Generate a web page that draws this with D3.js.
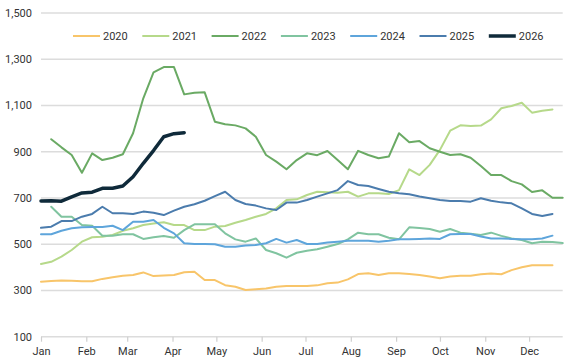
<!DOCTYPE html>
<html><head><meta charset="utf-8">
<script src="https://cdn.jsdelivr.net/npm/d3@7"></script>
<style>
html,body{margin:0;padding:0;background:#fff;}
svg{display:block;font-family:Roboto,"Noto Sans",Arial,sans-serif;}
</style></head>
<body><svg id="c" width="579" height="363"></svg>
<script>
const years = ["2020","2021","2022","2023","2024","2025","2026"];
const colors = ["#F8C56A","#B6D98A","#6AAA64","#80C4A0","#5EA5DB","#4B7CAD","#0F2A3A"];
const widths = [2,2,2,2,2,2,3.5];
const yTicks = [100,300,500,700,900,1100,1300,1500];
const monthLabels = ["Jan","Feb","Mar","Apr","May","Jun","Jul","Aug","Sep","Oct","Nov","Dec"];

const s2020 = [338,341,343,342,340,340,350,357,364,367,378,362,365,367,379,381,345,345,323,316,302,305,308,316,319,319,319,322,331,334,348,371,374,367,374,374,371,367,360,353,360,364,364,370,373,370,388,400,409,409,409];
const s2021 = [414,424,446,475,511,530,532,540,558,569,583,590,595,583,583,561,561,576,579,593,605,619,631,655,691,694,713,727,725,723,727,706,720,720,717,734,824,799,843,908,991,1014,1011,1013,1040,1088,1098,1112,1069,1077,1083];
const s2022 = [null,954,919,886,809,893,864,874,889,980,1131,1243,1266,1266,1148,1155,1157,1030,1019,1014,1001,965,886,857,824,864,893,885,903,864,824,904,886,872,879,980,941,946,915,900,886,889,874,838,799,799,773,759,726,733,701,701];
const s2023 = [null,662,619,619,583,580,537,537,543,543,523,530,536,528,561,586,586,586,547,521,511,525,475,461,442,463,472,478,489,501,521,550,543,543,528,521,573,570,566,554,566,550,545,540,550,536,525,518,504,511,510,505];
const s2024 = [543,543,558,569,573,574,574,580,561,597,597,605,571,547,504,501,501,500,489,489,494,497,504,523,507,518,501,501,507,511,515,515,515,511,515,521,521,523,525,523,543,544,544,533,525,525,523,521,521,525,537];
const s2025 = [571,576,600,600,619,631,662,634,634,631,641,636,626,645,662,673,688,708,727,691,674,667,655,648,680,680,691,706,720,734,773,756,752,739,727,720,716,706,699,691,687,687,684,699,688,681,677,655,631,622,631];
const s2026 = [687,688,686,705,722,725,742,742,752,792,850,905,965,978,982];
const series = [s2020,s2021,s2022,s2023,s2024,s2025,s2026];

const svg = d3.select("#c");
const t0 = new Date(2023,0,1);
const weekDate = k => new Date(2023,0,1+7*k);
const x = d3.scaleTime().domain([t0, weekDate(51)]).range([41,562.7]);
const y = d3.scaleLinear().domain([100,1500]).range([336.7,13]);

// gridlines
svg.append("g").selectAll("line").data(yTicks).join("line")
  .attr("x1",41).attr("x2",562.7)
  .attr("y1",d=>y(d)).attr("y2",d=>y(d))
  .attr("stroke","#dcdcdc").attr("stroke-width",1.4);

// y labels
svg.append("g").selectAll("text").data(yTicks).join("text")
  .attr("x",32).attr("y",d=>y(d)).attr("dy","0.35em")
  .attr("text-anchor","end").attr("font-size",11).attr("fill","#333")
  .text(d=>d3.format(",")(d));

// x axis
const months = d3.timeMonth.range(t0, new Date(2023,11,2));
const xa = svg.append("g").attr("transform",`translate(0,${y(100)})`)
  .call(d3.axisBottom(x).tickValues(months).tickFormat((d,i)=>monthLabels[i]).tickSize(5).tickPadding(6));
xa.select(".domain").remove();
xa.selectAll(".tick line").attr("stroke","#cfcfcf").attr("stroke-width",1.2);
xa.selectAll(".tick text").attr("font-size",11).attr("fill","#333").attr("font-family","Roboto, 'Noto Sans', Arial, sans-serif");

// lines
const line = d3.line().defined(d=>d!=null).x((d,i)=>x(weekDate(i))).y(d=>y(d));
series.forEach((s,i)=>{
  svg.append("path").datum(s).attr("d",line)
    .attr("fill","none").attr("stroke",colors[i]).attr("stroke-width",widths[i])
    .attr("stroke-linejoin","round").attr("stroke-linecap","round");
});

// legend
const lg = svg.append("g").attr("transform","translate(0,36)");
years.forEach((yr,i)=>{
  const lx = 73 + i*69.3;
  lg.append("line").attr("x1",lx).attr("x2",lx+27).attr("y1",0).attr("y2",0)
    .attr("stroke",colors[i]).attr("stroke-width",widths[i]);
  lg.append("text").attr("x",lx+30).attr("y",0).attr("dy","0.35em")
    .attr("font-size",11).attr("fill","#333").text(yr);
});
</script></body></html>
